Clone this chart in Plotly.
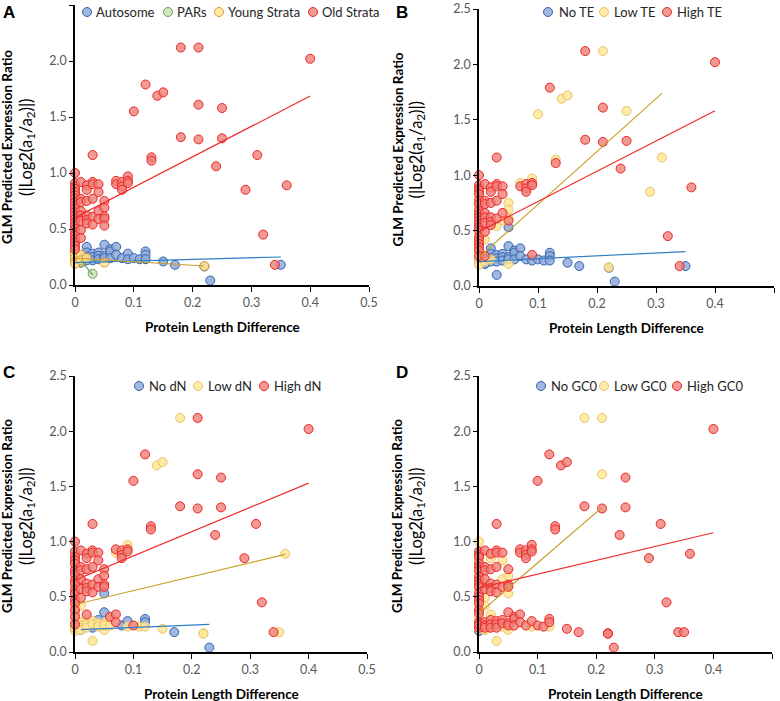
import plotly.graph_objects as go

# ---------------- data ----------------
# Each gene: protein length difference (x), predicted expression ratio (y)
# and its category in each of the four panels.
gene_x = [
    0.18, 0.21, 0.40, 0.12, 0.14, 0.15, 0.10, 0.21, 0.25, 0.18, 0.21, 0.25, 0.13, 0.13,
    0.03, 0.31, 0.24, 0.29, 0.36, 0.32, 0.34, 0.35, 0.23, 0.22, 0.22, 0.17, 0.15, 0.03, 0.00,
    0.07, 0.07, 0.08, 0.08, 0.08, 0.09, 0.09, 0.09,
    0.00, 0.00, 0.00, 0.00, 0.00, 0.00, 0.00, 0.00, 0.00, 0.00, 0.00,
    0.00, 0.00, 0.00, 0.00, 0.00, 0.00, 0.00, 0.00, 0.00, 0.00,
    0.00, 0.00, 0.00, 0.00, 0.00, 0.00, 0.00,
    0.01, 0.01, 0.01, 0.01, 0.01, 0.01, 0.01, 0.01, 0.01, 0.01, 0.01, 0.01, 0.01, 0.01,
    0.02, 0.02, 0.02, 0.02, 0.02, 0.02, 0.02, 0.02, 0.02, 0.02, 0.02,
    0.03, 0.03, 0.03, 0.03, 0.03, 0.03, 0.03, 0.03,
    0.04, 0.04, 0.04, 0.04, 0.04, 0.04, 0.04,
    0.05, 0.05, 0.05, 0.05, 0.05, 0.05, 0.05, 0.05, 0.05,
    0.06, 0.06, 0.06, 0.07, 0.07, 0.08, 0.09, 0.09, 0.10, 0.11, 0.12, 0.12, 0.12,
]
gene_y = [
    2.12, 2.12, 2.02, 1.79, 1.69, 1.72, 1.55, 1.61, 1.58, 1.32, 1.30, 1.31, 1.14, 1.11,
    1.16, 1.16, 1.06, 0.85, 0.89, 0.45, 0.18, 0.18, 0.04, 0.17, 0.165, 0.18, 0.21, 0.10, 1.00,
    0.93, 0.90, 0.92, 0.88, 0.85, 0.97, 0.93, 0.91,
    0.91, 0.88, 0.86, 0.83, 0.80, 0.77, 0.74, 0.71, 0.68, 0.65, 0.62,
    0.59, 0.56, 0.53, 0.50, 0.47, 0.44, 0.41, 0.38, 0.35, 0.32,
    0.30, 0.27, 0.24, 0.21, 0.19, 0.22, 0.25,
    0.92, 0.77, 0.74, 0.66, 0.62, 0.57, 0.49, 0.42, 0.27, 0.22, 0.24, 0.20, 0.22, 0.20,
    0.89, 0.85, 0.75, 0.62, 0.58, 0.55, 0.24, 0.34, 0.29, 0.25, 0.22,
    0.92, 0.90, 0.77, 0.61, 0.54, 0.28, 0.25, 0.22,
    0.90, 0.83, 0.66, 0.59, 0.29, 0.26, 0.23,
    0.75, 0.69, 0.61, 0.59, 0.53, 0.20, 0.36, 0.26, 0.24,
    0.32, 0.30, 0.24, 0.34, 0.27, 0.24, 0.28, 0.23, 0.24, 0.23, 0.30, 0.27, 0.23,
]
# Panel A: A=Autosome, P=PARs, Y=Young Strata, O=Old Strata
cat_A = list(
    "OOOOOOOOOOOOOO"
    + "OOOOOOOAAYAAAPO"
    + "OOOOOOOO"
    + "OOOOOOOOOOO"
    + "OOOOOOOOOO"
    + "YYYYYAA"
    + "OOOOOOOOYYAAPP"
    + "OOOOOOYAAAA"
    + "OOOOOAAA"
    + "OOOOAAA"
    + "OOOOOYAAA"
    + "AAAAAAAAAAAAA"
)
# Panels B-D: n=No, l=Low, h=High
cat_B = list(
    "hlhhlllhlhhhlh"
    + "hlhlhhhnnlnnnnh"
    + "lhhhhlhh"
    + "hhhhlhhlhhh"
    + "hhhhlhhhhh"
    + "lhlllnn"
    + "hhhhhhhlhlnnnn"
    + "hhhhhhlnnnn"
    + "hhhhlnnn"
    + "hhhlnnn"
    + "lllhnlnnn"
    + "nnnnnnhnnnnnn"
)
cat_C = list(
    "lhhhllhhhhhhhh"
    + "hhhhlhhlnllnllh"
    + "hlhhhlhh"
    + "hlhhhlhhlhh"
    + "lhhlhhlhlh"
    + "llllllh"
    + "hhhhlhhllllnll"
    + "hhhhhhlhlll"
    + "hhhhhlln"
    + "hhhhnll"
    + "hhhhnlnll"
    + "hllhhnnlhlnnl"
)
cat_D = list(
    "llhhhhhlhhhhhh"
    + "hhhhhhhhhhhhhll"
    + "hhhhhhhh"
    + "hhhlhhhlhhh"
    + "hlhhhhlhhl"
    + "lhhlnhh"
    + "hhhhlhllhlhlhl"
    + "hlhhhhllhhh"
    + "hhhhhhhh"
    + "hllhhhl"
    + "hlhhllhhh"
    + "hhhhhhhlhhhhl"
)

names_A = ["Autosome", "PARs", "Young Strata", "Old Strata"]
codes_A = ["A", "P", "Y", "O"]
names_B = ["No TE", "Low TE", "High TE"]
names_C = ["No dN", "Low dN", "High dN"]
names_D = ["No GC0", "Low GC0", "High GC0"]
codes_BCD = ["n", "l", "h"]

# linear trend lines: slope, intercept (None = no line)
slope_A = [0.143, -6.5, -0.32, 2.72]
icpt_A = [0.20, 0.285, 0.24, 0.60]
slope_B = [0.26, 4.77, 2.73]
icpt_B = [0.22, 0.26, 0.49]
slope_C = [0.22, 1.26, 2.20]
icpt_C = [0.20, 0.43, 0.65]
slope_D = [None, 4.57, 1.25]
icpt_D = [None, 0.35, 0.58]

x_ticks = [0, 0.1, 0.2, 0.3, 0.4, 0.5]
x_tick_text = ["0", "0.1", "0.2", "0.3", "0.4", "0.5"]
y_ticks = [0, 0.5, 1.0, 1.5, 2.0, 2.5]

# ---------------- styles ----------------
W, H = 780, 701
FONT = "Lato, 'Open Sans', sans-serif"
BLUE = dict(fill="rgba(143,170,220,0.85)", edge="#3563AE", line="#2F7FC6")
GREEN = dict(fill="rgba(197,224,180,0.85)", edge="#6F9F5E", line="#6F9F5E")
YOUNG = dict(fill="rgba(255,230,153,0.85)", edge="#E8962A", line="#C9A030")
LOW = dict(fill="rgba(255,230,153,0.85)", edge="#E9C46A", line="#C9A22A")
RED = dict(fill="rgba(238,128,120,0.80)", edge="#F02424", line="#F02A2A")
styles_A = [BLUE, GREEN, YOUNG, RED]
styles_BCD = [BLUE, LOW, RED]


def px_x(p):
    return p / W


def px_y(p):
    return 1 - p / H


panels = [
    # letter, categories, series names, codes, styles, slopes, intercepts,
    # plot area px (x0, x1, ytop, ybottom), legend (marker centre x, text start x), legend y
    ("A", cat_A, names_A, codes_A, styles_A, slope_A, icpt_A,
     (75, 369, 5, 285), [(88, 94), (169, 175), (220, 226), (314, 320)], 12),
    ("B", cat_B, names_B, codes_BCD, styles_BCD, slope_B, icpt_B,
     (479, 774, 9, 286), [(549, 557), (605, 612), (668, 675)], 12),
    ("C", cat_C, names_C, codes_BCD, styles_BCD, slope_C, icpt_C,
     (75, 367, 376, 652), [(140, 147), (199, 206), (265, 272)], 386),
    ("D", cat_D, names_D, codes_BCD, styles_BCD, slope_D, icpt_D,
     (479, 772, 376, 652), [(542, 549), (605, 612), (678, 685)], 386),
]

fig = go.Figure()
layout = dict(
    width=W, height=H, margin=dict(l=0, r=0, t=0, b=0, autoexpand=False),
    paper_bgcolor="white", plot_bgcolor="white",
    font=dict(family=FONT, size=12, color="#595959"),
    annotations=[],
)
legend_n = 0
for pi, (letter, cats, names, codes, stys, slopes, icpts, dom, legpos, legy) in enumerate(panels):
    sfx = "" if pi == 0 else str(pi + 1)
    xa, ya = "x" + sfx, "y" + sfx
    x0, x1, y0, y1 = dom
    # markers (legend shows the symbol; label drawn as text next to it)
    for si, (nm, cd, st) in enumerate(zip(names, codes, stys)):
        xs = [gx for gx, c in zip(gene_x, cats) if c == cd]
        ys = [gy for gy, c in zip(gene_y, cats) if c == cd]
        legend_n += 1
        lname = "legend" if legend_n == 1 else "legend%d" % legend_n
        fig.add_trace(go.Scatter(
            x=xs, y=ys, mode="markers", name="", xaxis=xa, yaxis=ya,
            legend=lname, cliponaxis=False, hovertext=nm,
            marker=dict(size=9, color=st["fill"], line=dict(color=st["edge"], width=1)),
        ))
        mx, tx = legpos[si]
        layout[lname] = dict(
            x=px_x(mx - 21), y=px_y(legy), xanchor="left", yanchor="middle",
            orientation="h", bgcolor="rgba(0,0,0,0)", borderwidth=0,
            font=dict(family=FONT, size=10, color="#262626"),
            itemclick=False, itemdoubleclick=False,
        )
        layout["annotations"].append(dict(
            text=nm, x=px_x(tx), y=px_y(legy), xref="paper", yref="paper",
            xanchor="left", yanchor="middle", showarrow=False,
            font=dict(family=FONT, size=13, color="#262626"),
        ))
    # trend lines
    for si, (cd, st) in enumerate(zip(codes, stys)):
        if slopes[si] is None:
            continue
        xs = [gx for gx, c in zip(gene_x, cats) if c == cd]
        lo, hi = min(xs), max(xs)
        fig.add_trace(go.Scatter(
            x=[lo, hi], y=[icpts[si] + slopes[si] * lo, icpts[si] + slopes[si] * hi],
            mode="lines", xaxis=xa, yaxis=ya, showlegend=False, hoverinfo="skip",
            line=dict(color=st["line"], width=1.2),
        ))
    xkey = "xaxis" + sfx
    ykey = "yaxis" + sfx
    layout[xkey] = dict(
        domain=[px_x(x0), px_x(x1)], range=[0, 0.5], anchor=ya,
        tickvals=x_ticks, ticktext=x_tick_text,
        showgrid=False, zeroline=False, showline=True, linecolor="black", linewidth=1.5,
        ticks="outside", ticklen=5, tickcolor="black", tickwidth=1,
        tickfont=dict(size=12.5, color="#595959"),
    )
    layout[ykey] = dict(
        domain=[px_y(y1), px_y(y0)], range=[0, 2.5], anchor=xa,
        tickvals=y_ticks, tickformat=".1f",
        showgrid=False, zeroline=False, showline=True, linecolor="black", linewidth=1.5,
        ticks="outside", ticklen=4, tickcolor="black", tickwidth=1,
        tickfont=dict(size=12.5, color="#595959"),
    )
    # panel letter
    lxp = 9 if pi % 2 == 0 else 402
    lyp = 12 if pi < 2 else 372
    layout["annotations"].append(dict(
        text="<b>%s</b>" % letter, x=px_x(lxp), y=px_y(lyp), xref="paper", yref="paper",
        xanchor="center", yanchor="middle", showarrow=False,
        font=dict(family="Liberation Sans, Arial, sans-serif", size=17, color="black"),
    ))
    # y title (two lines)
    ybase = 0 if pi % 2 == 0 else 390
    ycen = (y0 + y1) / 2 + 2
    layout["annotations"].append(dict(
        text="<b>GLM Predicted Expression Ratio</b>", x=px_x(ybase + 7), y=px_y(ycen),
        xref="paper", yref="paper", xanchor="center", yanchor="middle", textangle=-90,
        showarrow=False, font=dict(family=FONT, size=13.5, color="black"),
    ))
    layout["annotations"].append(dict(
        text="(|Log2(a<sub>1</sub>/a<sub>2</sub>)|)", x=px_x(ybase + 26), y=px_y(ycen),
        xref="paper", yref="paper", xanchor="center", yanchor="middle", textangle=-90,
        showarrow=False, font=dict(family=FONT, size=16.5, color="black"),
    ))
    # x title
    layout["annotations"].append(dict(
        text="<b>Protein Length Difference</b>", x=px_x((x0 + x1) / 2), y=px_y(y1 + 42),
        xref="paper", yref="paper", xanchor="center", yanchor="middle",
        showarrow=False, font=dict(family=FONT, size=13.5, color="black"),
    ))

fig.update_layout(**layout)
fig.write_html(
    "out.html",
    config={"displayModeBar": False},
    post_script="document.body.style.margin='0';document.body.style.overflow='hidden';",
)
